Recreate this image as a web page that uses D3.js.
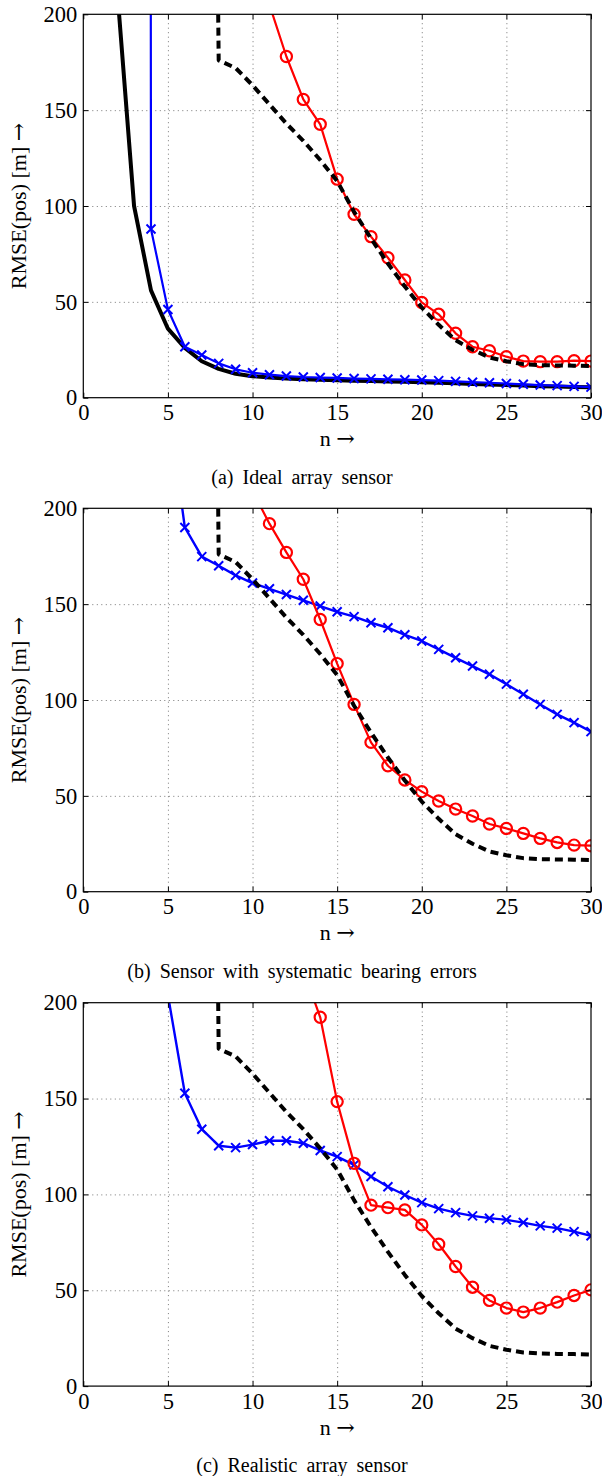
<!DOCTYPE html>
<html>
<body>
    <style>
        body, html {
            margin: 0;
            padding: 0;
            background: #fff;
        }
        svg text {
            font-family: "Liberation Serif", "Times New Roman", "DejaVu Serif", serif;
            fill: #000;
        }
    </style>

    <svg width="602" height="1476"></svg>

    <script src="https://d3js.org/d3.v7.min.js"></script>

    <script>
        // n (number of measurements)
        var nValues = [1, 2, 3, 4, 5, 6, 7, 8, 9, 10, 11, 12, 13, 14, 15,
                       16, 17, 18, 19, 20, 21, 22, 23, 24, 25, 26, 27, 28, 29, 30];
        var xTicks = [0, 5, 10, 15, 20, 25, 30];
        var yTicks = [0, 50, 100, 150, 200];

        // bound (dashed), same in every panel
        var bound = [null, null, null, null, null, null, 1000, 176, 172, 163, 153, 143, 134, 124, 113,
                     97, 83, 70, 58, 47, 38, 30, 25, 21, 19, 17.5, 17, 16.8, 16.7, 16.5];

        // (a) ideal array sensor
        var idealBlack = [null, 213, 100, 56, 36, 26, 19, 15, 12.5, 11.2, 10.5, 10, 9.6, 9.3, 9.1,
                          8.9, 8.7, 8.5, 8.3, 8.1, 7.8, 7.5, 7.2, 6.9, 6.6, 6.3, 6.0, 5.8, 5.6, 5.4];
        var idealBlue = [null, null, 10000, 88, 46, 26.6, 22.3, 17.9, 14.8, 13, 12, 11.3, 10.8, 10.5, 10.3,
                         10, 9.8, 9.6, 9.4, 9.2, 8.9, 8.5, 8.1, 7.8, 7.4, 7, 6.6, 6.3, 5.9, 5.5];
        var idealRed = [null, null, null, null, null, null, null, null, null, null, 205, 178, 155.6, 142.6, 114,
                        95.7, 84, 73, 61.4, 49.7, 43.5, 33.6, 26.6, 24.5, 21.4, 19.1, 18.8, 18.8, 19.3, 19.1];

        // (b) systematic bearing errors
        var biasBlue = [null, null, null, null, 255, 190, 174.8, 170, 165, 161, 158, 155, 152, 149, 146,
                        143.5, 140.3, 137.7, 134, 130.8, 126.4, 122, 117.7, 113.4, 108.3, 103, 97.7, 92.5, 88.2, 83.5];
        var biasRed = [null, null, null, null, null, null, null, null, null, 209, 192, 177, 163, 142, 119,
                       97.7, 77.9, 65.7, 58.3, 52.2, 47.3, 43.1, 39.5, 35.3, 33, 30.4, 27.8, 25.7, 24.3, 24];

        // (c) realistic array sensor
        var realBlue = [null, null, null, null, 204, 152.8, 134, 125.4, 124.4, 126, 128, 128, 126.7, 122.9, 119.7,
                        115.4, 109.3, 104, 99.7, 95.7, 92.6, 90.5, 88.8, 87.6, 86.7, 85.3, 83.6, 82.4, 80.6, 78.4];
        var realRed = [null, null, null, null, null, null, null, null, null, null, null, null, 217, 192.4, 148.4,
                       116.2, 94.4, 93.1, 91.9, 84.1, 74, 62.4, 51.6, 44.7, 40.7, 38.6, 40.7, 43.8, 47.3, 50.2];

        var captions = ["(a) Ideal array sensor",
                        "(b) Sensor with systematic bearing errors",
                        "(c) Realistic array sensor"];

        var serif = "'Liberation Serif', 'Times New Roman', serif";
        var svg = d3.select("svg");
        var left = 83.3, right = 591, plotH = 383.4;
        var tops = [14.3, 508.3, 1002.7];

        var x = d3.scaleLinear().domain([0, 30]).range([left, right]);

        function pts(vals) {
            return nValues.map(function (n, i) { return [n, vals[i]]; })
                          .filter(function (d) { return d[1] != null; });
        }

        // label text followed by a wide right arrow
        function arrowLabel(sel, label) {
            sel.append("tspan").text(label + " ");
            sel.append("tspan").style("font-family", "'DejaVu Serif', serif")
                .style("font-size", "22px").text("\u2192");
        }

        function drawPanel(k, series) {
            var top = tops[k], bottom = top + plotH;
            var y = d3.scaleLinear().domain([0, 200]).range([bottom, top]);
            var g = svg.append("g");

            g.append("clipPath").attr("id", "clip" + k)
                .append("rect").attr("x", left).attr("y", top)
                .attr("width", right - left).attr("height", plotH);

            // GRID
            g.append("g").attr("transform", "translate(0," + bottom + ")")
                .call(d3.axisBottom(x).tickValues(xTicks.slice(1, -1)).tickSize(-plotH).tickFormat(""))
                .call(function (s) { s.select(".domain").remove(); })
                .selectAll("line").attr("stroke", "#555").attr("stroke-width", 0.8).attr("stroke-dasharray", "1,3.5");
            g.append("g").attr("transform", "translate(" + left + ",0)")
                .call(d3.axisLeft(y).tickValues(yTicks.slice(1, -1)).tickSize(-(right - left)).tickFormat(""))
                .call(function (s) { s.select(".domain").remove(); })
                .selectAll("line").attr("stroke", "#555").attr("stroke-width", 0.8).attr("stroke-dasharray", "1,3.5");

            // LINES
            var line = d3.line().x(function (d) { return x(d[0]); }).y(function (d) { return y(d[1]); });
            var plot = g.append("g").attr("clip-path", "url(#clip" + k + ")");

            series.forEach(function (s) {
                var data = pts(s.values);
                plot.append("path").datum(data)
                    .attr("d", line)
                    .attr("fill", "none")
                    .attr("stroke", s.color)
                    .attr("stroke-width", s.width)
                    .attr("stroke-dasharray", s.dash || null)
                    .attr("stroke-linejoin", "round");

                var shown = data.filter(function (d) { return d[1] <= 200; });
                if (s.marker == "x") {
                    plot.selectAll(null).data(shown).enter().append("path")
                        .attr("d", "M-4.5,-4.5L4.5,4.5M-4.5,4.5L4.5,-4.5")
                        .attr("transform", function (d) { return "translate(" + x(d[0]) + "," + y(d[1]) + ")"; })
                        .attr("stroke", s.color).attr("stroke-width", 2).attr("fill", "none");
                } else if (s.marker == "o") {
                    plot.selectAll(null).data(shown).enter().append("circle")
                        .attr("cx", function (d) { return x(d[0]); })
                        .attr("cy", function (d) { return y(d[1]); })
                        .attr("r", 5.6)
                        .attr("stroke", s.color).attr("stroke-width", 2.2).attr("fill", "none");
                }
            });

            // AXES
            g.append("g").attr("transform", "translate(0," + bottom + ")")
                .call(d3.axisBottom(x).tickValues(xTicks).tickSize(-5).tickPadding(6.5));
            g.append("g").attr("transform", "translate(" + left + ",0)")
                .call(d3.axisLeft(y).tickValues(yTicks).tickSize(-5).tickPadding(6));
            g.append("g").attr("transform", "translate(0," + top + ")")
                .call(d3.axisTop(x).tickValues(xTicks).tickSize(-5).tickFormat(""));
            g.append("g").attr("transform", "translate(" + right + ",0)")
                .call(d3.axisRight(y).tickValues(yTicks).tickSize(-5).tickFormat(""));
            g.selectAll("g").attr("font-family", serif);
            g.selectAll(".domain").remove();
            g.selectAll(".tick text").style("font-size", "22.5px").attr("fill", "#000");
            g.selectAll(".tick line").filter(function () { return d3.select(this).attr("stroke-dasharray") == null; })
                .attr("stroke", "#000");

            g.append("rect").attr("x", left).attr("y", top)
                .attr("width", right - left).attr("height", plotH)
                .attr("fill", "none").attr("stroke", "#000").attr("stroke-width", 1.2);

            // LABELS
            g.append("text").attr("x", (left + right) / 2).attr("y", bottom + 48.5)
                .attr("text-anchor", "middle").style("font-size", "22px")
                .call(arrowLabel, "n");
            g.append("text")
                .attr("transform", "translate(26," + (top + plotH / 2) + ") rotate(-90)")
                .attr("text-anchor", "middle").style("font-size", "22px")
                .call(arrowLabel, "RMSE(pos) [m]");
            g.append("text").attr("x", 302).attr("y", bottom + 86)
                .attr("text-anchor", "middle").style("font-size", "20px")
                .style("word-spacing", "4px")
                .text(captions[k]);
        }

        var blackDash = { values: bound, color: "#000", width: 4, dash: "8,5" };

        drawPanel(0, [
            { values: idealBlack, color: "#000", width: 4 },
            { values: idealBlue, color: "#0000ff", width: 2.2, marker: "x" },
            { values: idealRed, color: "#ff0000", width: 2.2, marker: "o" },
            blackDash
        ]);
        drawPanel(1, [
            { values: biasBlue, color: "#0000ff", width: 2.4, marker: "x" },
            { values: biasRed, color: "#ff0000", width: 2.2, marker: "o" },
            blackDash
        ]);
        drawPanel(2, [
            { values: realBlue, color: "#0000ff", width: 2.4, marker: "x" },
            { values: realRed, color: "#ff0000", width: 2.2, marker: "o" },
            blackDash
        ]);
    </script>
</body>
</html>
